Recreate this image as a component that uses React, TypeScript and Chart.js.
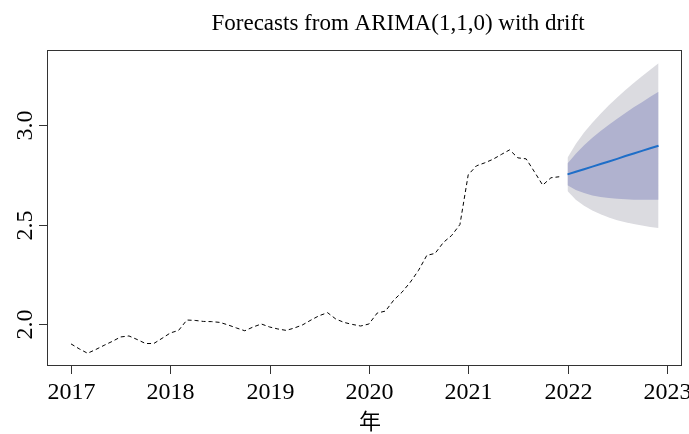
import React, { useEffect, useRef } from "react";
import { Chart, registerables } from "chart.js";

Chart.register(...registerables);

const titleText = "Forecasts from ARIMA(1,1,0) with drift";
const xAxisTitle = "年";

const historyStart = 2017;
const historyValues = [
  1.9, 1.875, 1.853, 1.872, 1.893, 1.913, 1.935, 1.94, 1.922, 1.902, 1.902, 1.928,
  1.955, 1.968, 2.02, 2.018, 2.013, 2.012, 2.008, 1.995, 1.98, 1.966, 1.985, 2.0,
  1.985, 1.975, 1.968, 1.98, 1.996, 2.02, 2.042, 2.057, 2.025, 2.008, 1.998, 1.99,
  2.0, 2.055, 2.065, 2.12, 2.16, 2.21, 2.27, 2.345, 2.355, 2.41, 2.445, 2.5,
  2.75, 2.795, 2.81, 2.828, 2.852, 2.875, 2.835, 2.83, 2.765, 2.698, 2.735, 2.74,
];

const forecastStart = 2022;
const forecastMean = [2.752, 2.765, 2.778, 2.791, 2.804, 2.817, 2.83, 2.844, 2.857, 2.87, 2.883, 2.896];
const upper80 = [2.807, 2.856, 2.898, 2.936, 2.97, 3.001, 3.031, 3.061, 3.089, 3.115, 3.142, 3.167];
const lower80 = [2.697, 2.674, 2.658, 2.646, 2.638, 2.633, 2.629, 2.627, 2.625, 2.625, 2.625, 2.625];
const upper95 = [2.836, 2.905, 2.962, 3.012, 3.057, 3.099, 3.138, 3.176, 3.211, 3.245, 3.278, 3.31];
const lower95 = [2.668, 2.625, 2.594, 2.57, 2.551, 2.535, 2.522, 2.512, 2.503, 2.495, 2.488, 2.482];

const xTicks = [2017, 2018, 2019, 2020, 2021, 2022, 2023];
const xTickLabels = ["2017", "2018", "2019", "2020", "2021", "2022", "2023"];
const yTicks = [2.0, 2.5, 3.0];
const yTickLabels = ["2.0", "2.5", "3.0"];

const xMin = 2016.758;
const xMax = 2023.153;
const yMin = 1.789;
const yMax = 3.377;

const monthly = (start: number, vals: number[]) =>
  vals.map((v, i) => ({ x: start + i / 12, y: v }));

const SERIF = "'Liberation Serif', 'DejaVu Serif', serif";

const decorPlugin = {
  id: "decor",
  afterDraw(chart: any) {
    const { ctx, chartArea } = chart;
    const xs = chart.scales.x;
    const ys = chart.scales.y;
    const { left, right, top, bottom } = chartArea;
    ctx.save();
    ctx.strokeStyle = "#333";
    ctx.lineWidth = 1;
    ctx.strokeRect(left + 0.5, top + 0.5, right - left - 1, bottom - top - 1);

    ctx.fillStyle = "#000";
    ctx.font = "24px " + SERIF;
    ctx.textAlign = "center";
    ctx.textBaseline = "alphabetic";
    xTicks.forEach((t, i) => {
      const px = Math.round(xs.getPixelForValue(t)) + 0.5;
      ctx.beginPath();
      ctx.moveTo(px, bottom);
      ctx.lineTo(px, bottom + 8);
      ctx.stroke();
      ctx.fillText(xTickLabels[i], px, 399);
    });

    yTicks.forEach((t, i) => {
      const py = Math.round(ys.getPixelForValue(t)) + 0.5;
      ctx.beginPath();
      ctx.moveTo(left, py);
      ctx.lineTo(left - 8, py);
      ctx.stroke();
      ctx.save();
      ctx.translate(32, py);
      ctx.rotate(-Math.PI / 2);
      ctx.fillText(yTickLabels[i], 0, 0);
      ctx.restore();
    });

    ctx.font = "23px " + SERIF;
    ctx.fillText(titleText, 398, 30);

    ctx.font = "22px 'Noto Sans CJK SC', sans-serif";
    ctx.textBaseline = "middle";
    ctx.fillText(xAxisTitle, 370, 421);
    ctx.restore();
  },
};

export default function App() {
  const canvasRef = useRef<HTMLCanvasElement | null>(null);

  useEffect(() => {
    document.body.style.margin = "0";
    const canvas = canvasRef.current;
    if (!canvas) return;
    const chart = new Chart(canvas, {
      type: "line",
      data: {
        datasets: [
          {
            label: "history",
            data: monthly(historyStart, historyValues),
            borderColor: "#000",
            borderWidth: 1,
            borderDash: [4, 3],
            pointRadius: 0,
            fill: false,
            tension: 0,
          },
          {
            label: "forecast",
            data: monthly(forecastStart, forecastMean),
            borderColor: "#1E6EC8",
            borderWidth: 2,
            pointRadius: 0,
            fill: false,
            tension: 0,
          },
          {
            label: "hi80",
            data: monthly(forecastStart, upper80),
            borderWidth: 0,
            borderColor: "rgba(0,0,0,0)",
            backgroundColor: "#B0B2CF",
            pointRadius: 0,
            fill: "+1",
            tension: 0,
          },
          {
            label: "lo80",
            data: monthly(forecastStart, lower80),
            borderWidth: 0,
            borderColor: "rgba(0,0,0,0)",
            pointRadius: 0,
            fill: false,
            tension: 0,
          },
          {
            label: "hi95",
            data: monthly(forecastStart, upper95),
            borderWidth: 0,
            borderColor: "rgba(0,0,0,0)",
            backgroundColor: "#DBDBE0",
            pointRadius: 0,
            fill: "+1",
            tension: 0,
          },
          {
            label: "lo95",
            data: monthly(forecastStart, lower95),
            borderWidth: 0,
            borderColor: "rgba(0,0,0,0)",
            pointRadius: 0,
            fill: false,
            tension: 0,
          },
        ],
      },
      options: {
        responsive: false,
        animation: false,
        layout: { padding: { left: 47, right: 7, top: 50, bottom: 68 } },
        scales: {
          x: { type: "linear", display: false, min: xMin, max: xMax },
          y: { type: "linear", display: false, min: yMin, max: yMax },
        },
        plugins: {
          legend: { display: false },
          tooltip: { enabled: false },
        },
      },
      plugins: [decorPlugin],
    });
    return () => chart.destroy();
  }, []);

  return (
    <div style={{ width: 689, height: 434 }}>
      <canvas ref={canvasRef} width={689} height={434} />
    </div>
  );
}
